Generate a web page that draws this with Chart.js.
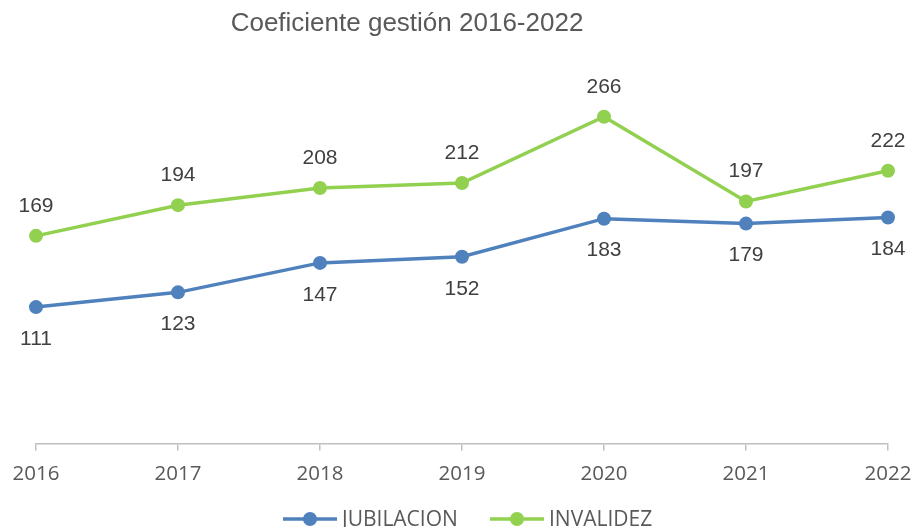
<!DOCTYPE html>
<html>
<head>
<meta charset="utf-8">
<script src="https://cdn.jsdelivr.net/npm/chart.js@4.4.1/dist/chart.umd.min.js"></script>
<style>
  html, body { margin: 0; padding: 0; background: #fff; }
  #wrap { width: 913px; height: 527px; }
</style>
</head>
<body>
<div id="wrap"><canvas id="coefChart"></canvas></div>
<script>
const years = ["2016", "2017", "2018", "2019", "2020", "2021", "2022"];
const jubilacion = [111, 123, 147, 152, 183, 179, 184];
const invalidez = [169, 194, 208, 212, 266, 197, 222];

const BLUE = "#4F81BD";
const GREEN = "#92D050";

// labels above (green) / below (blue) each point, Excel style
const pointLabels = {
    id: "pointLabels",
    afterDatasetsDraw(chart) {
        const ctx = chart.ctx;
        ctx.save();
        ctx.font = "21px 'Liberation Sans', Arial, sans-serif";
        ctx.fillStyle = "#404040";
        ctx.textAlign = "center";
        ctx.textBaseline = "middle";
        chart.data.datasets.forEach((ds, i) => {
            const meta = chart.getDatasetMeta(i);
            const shift = ds.labelPos === "below" ? 32 : -30;
            meta.data.forEach((pt, j) => {
                ctx.fillText(String(ds.data[j]), pt.x, pt.y + shift);
            });
        });
        ctx.restore();
    }
};

// title and legend drawn where Excel put them
const decor = {
    id: "decor",
    afterDraw(chart) {
        const ctx = chart.ctx;
        ctx.save();
        ctx.fillStyle = "#595959";
        ctx.font = "26px 'Liberation Sans', Arial, sans-serif";
        ctx.textAlign = "center";
        ctx.textBaseline = "middle";
        ctx.fillText("Coeficiente gestión 2016-2022", 407, 24);

        ctx.font = "21px 'Open Sans', sans-serif";
        ctx.textAlign = "left";
        const starts = [283, 490];
        chart.data.datasets.forEach((ds, i) => {
            const x = starts[i];
            ctx.strokeStyle = ds.borderColor;
            ctx.lineWidth = 3.5;
            ctx.beginPath();
            ctx.moveTo(x, 519);
            ctx.lineTo(x + 54, 519);
            ctx.stroke();
            ctx.fillStyle = ds.borderColor;
            ctx.beginPath();
            ctx.arc(x + 27, 519, 7, 0, Math.PI * 2);
            ctx.fill();
            ctx.fillStyle = "#595959";
            ctx.fillText(ds.label, x + 59, 520);
        });
        ctx.restore();
    }
};

new Chart(document.getElementById("coefChart"), {
    type: "line",
    data: {
        labels: years,
        datasets: [
            {
                label: "JUBILACION",
                data: jubilacion,
                borderColor: BLUE,
                backgroundColor: BLUE,
                borderWidth: 3.5,
                pointRadius: 7,
                pointHoverRadius: 7,
                pointBackgroundColor: BLUE,
                pointBorderWidth: 0,
                labelPos: "below",
            },
            {
                label: "INVALIDEZ",
                data: invalidez,
                borderColor: GREEN,
                backgroundColor: GREEN,
                borderWidth: 3.5,
                pointRadius: 7,
                pointHoverRadius: 7,
                pointBackgroundColor: GREEN,
                pointBorderWidth: 0,
                labelPos: "above",
            },
        ],
    },
    options: {
        responsive: true,
        maintainAspectRatio: false,
        animation: false,
        layout: {
            padding: { top: 75, left: 36, right: 25, bottom: 30 }
        },
        plugins: {
            legend: { display: false },
            title: { display: false },
            tooltip: { enabled: false },
        },
        scales: {
            x: {
                offset: false,
                // let layout.padding alone set the plot edges
                afterFit(scale) {
                    scale.paddingLeft = 0;
                    scale.paddingRight = 0;
                },
                grid: {
                    display: true,
                    drawOnChartArea: false,
                    drawTicks: true,
                    tickLength: 7,
                    color: "#BFBFBF",
                    lineWidth: 1.5,
                },
                border: { display: true, color: "#BFBFBF", width: 1.5 },
                ticks: {
                    color: "#595959",
                    font: { family: "'Open Sans', sans-serif", size: 20.5 },
                    padding: 11,
                    maxRotation: 0,
                },
            },
            y: {
                display: false,
                min: 0,
                max: 300,
            },
        },
    },
    plugins: [pointLabels, decor],
});
</script>
</body>
</html>
